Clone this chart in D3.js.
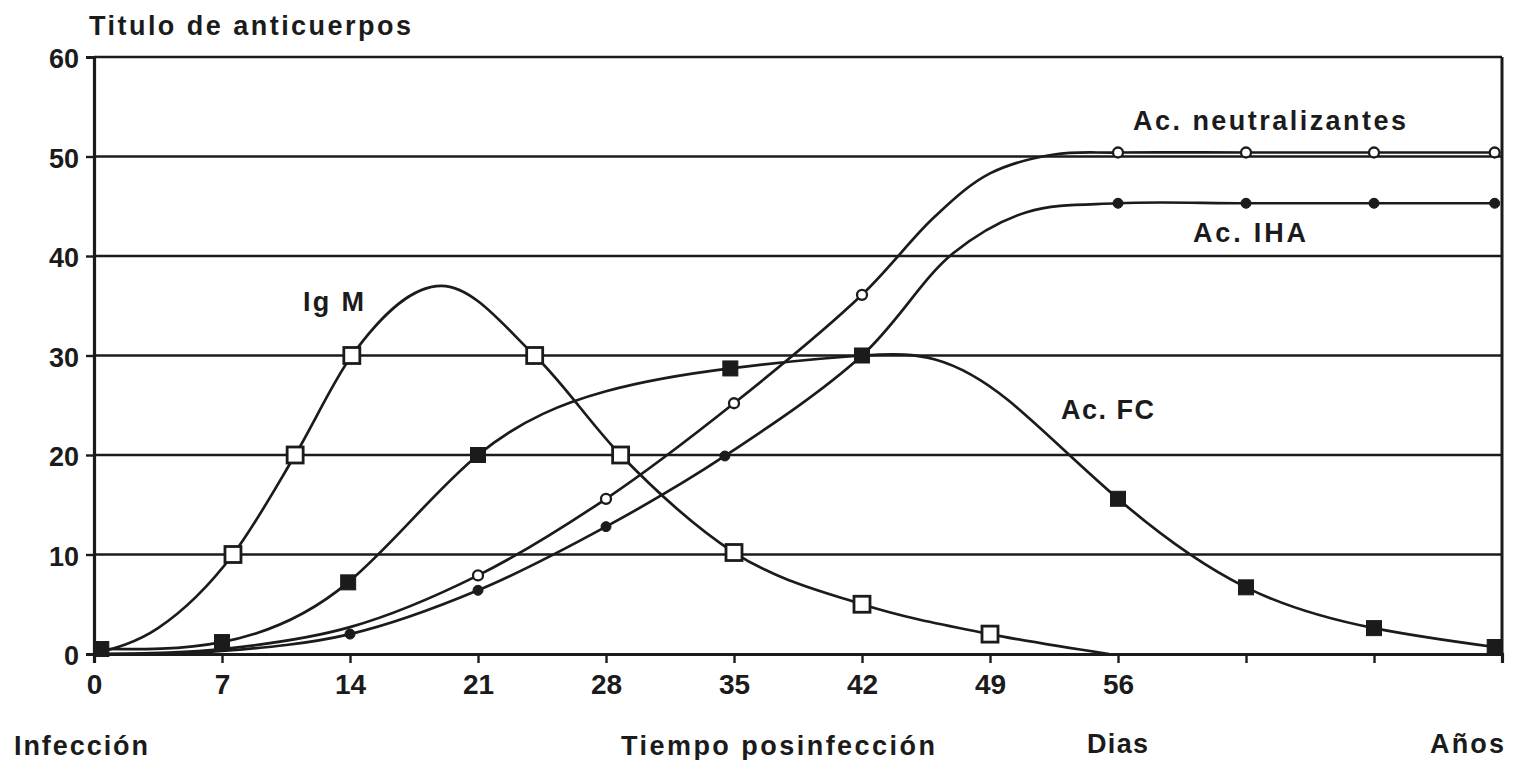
<!DOCTYPE html>
<html lang="es">
<head>
<meta charset="utf-8">
<title>Título de anticuerpos</title>
<script src="https://cdn.jsdelivr.net/npm/d3@7"></script>
<style>
  html, body { margin: 0; padding: 0; background: #ffffff; }
  svg { display: block; }
  text { font-family: "Liberation Sans", Arial, Helvetica, sans-serif; font-weight: bold; fill: #1b1b1b; }
</style>
</head>
<body>
<svg id="chart" width="1517" height="760"></svg>
<script>
// Axis ticks
const yTicks = [0, 10, 20, 30, 40, 50, 60];
const xTickDays = [0, 7, 14, 21, 28, 35, 42, 49, 56, 63, 70];
const xTickLabels = ["0", "7", "14", "21", "28", "35", "42", "49", "56", "", ""];

// Ig M (open squares); mark = 1 where a symbol is drawn
const igmDay   = [0, 3.5, 7.6, 11, 14.1, 19, 24.1, 28.8, 35, 42, 49, 55.5];
const igmTiter = [0, 2.6, 10, 20, 30, 37, 30, 20, 10.2, 5, 2, 0];
const igmMark  = [0, 0, 1, 1, 1, 0, 1, 1, 1, 1, 1, 0];

// Ac. FC (filled squares)
const fcDay   = [0.4, 7, 13.9, 21, 28, 34.8, 42, 46, 50, 56, 63, 70, 76.6];
const fcTiter = [0.5, 1.2, 7.2, 20, 26.4, 28.7, 30, 29.6, 25.5, 15.6, 6.7, 2.6, 0.7];
const fcMark  = [1, 1, 1, 1, 0, 1, 1, 0, 0, 1, 1, 1, 1];

// Ac. neutralizantes (open circles)
const neuDay   = [0, 7, 14, 21, 28, 35, 42, 46, 49, 52.5, 56, 63, 70, 76.6];
const neuTiter = [0, 0.5, 2.7, 7.9, 15.6, 25.2, 36.1, 44, 48.3, 50.2, 50.4, 50.4, 50.4, 50.4];
const neuMark  = [0, 0, 0, 1, 1, 1, 1, 0, 0, 0, 1, 1, 1, 1];

// Ac. IHA (filled circles)
const ihaDay   = [0, 7, 14, 21, 28, 34.5, 42, 47, 51, 56, 63, 70, 76.6];
const ihaTiter = [0, 0.3, 2.0, 6.4, 12.8, 19.9, 30, 40.3, 44.4, 45.3, 45.3, 45.3, 45.3];
const ihaMark  = [0, 0, 1, 1, 1, 1, 0, 0, 0, 1, 1, 1, 1];

const svg = d3.select("#chart");
const ink = "#1b1b1b";
const fontStack = "'Liberation Sans', Arial, sans-serif";

const x = d3.scaleLinear().domain([0, 77]).range([94, 1502]);
const y = d3.scaleLinear().domain([0, 60]).range([654, 57]);

// Horizontal rules at every ten units (the 60 rule closes the frame)
svg.append("g").selectAll("line").data(yTicks.filter(v => v > 0)).join("line")
  .attr("x1", x(0)).attr("x2", x(77))
  .attr("y1", d => y(d)).attr("y2", d => y(d))
  .attr("stroke", ink).attr("stroke-width", 2.5);

// Right border
svg.append("line")
  .attr("x1", x(77)).attr("x2", x(77)).attr("y1", y(60)).attr("y2", y(0))
  .attr("stroke", ink).attr("stroke-width", 3);

// Y axis
const yAxis = d3.axisLeft(y).tickValues(yTicks).tickSize(8).tickPadding(7).tickFormat(d3.format("d"));
const gy = svg.append("g").attr("transform", `translate(${x(0)},0)`).call(yAxis);
gy.select(".domain").attr("stroke", ink).attr("stroke-width", 3.2);
gy.selectAll(".tick line").attr("stroke", ink).attr("stroke-width", 2.4);
gy.selectAll(".tick text")
  .attr("font-size", 27).attr("dy", "0.4em")
  .style("font-family", fontStack).style("font-weight", "bold").attr("fill", ink);

// X axis
const xAxis = d3.axisBottom(x).tickValues(xTickDays).tickSize(9).tickPadding(11)
  .tickFormat((d, i) => xTickLabels[i]);
const gx = svg.append("g").attr("transform", `translate(0,${y(0)})`).call(xAxis);
gx.select(".domain").attr("stroke", ink).attr("stroke-width", 3.2);
gx.selectAll(".tick line").attr("stroke", ink).attr("stroke-width", 2.4);
gx.selectAll(".tick text")
  .attr("font-size", 28)
  .style("font-family", fontStack).style("font-weight", "bold").attr("fill", ink);

// Curves
const series = [
  { day: igmDay, titer: igmTiter, mark: igmMark, shape: "square", filled: false, curve: d3.curveMonotoneX },
  { day: fcDay,  titer: fcTiter,  mark: fcMark,  shape: "square", filled: true,  curve: d3.curveNatural },
  { day: neuDay, titer: neuTiter, mark: neuMark, shape: "circle", filled: false, curve: d3.curveCatmullRom.alpha(0.5) },
  { day: ihaDay, titer: ihaTiter, mark: ihaMark, shape: "circle", filled: true,  curve: d3.curveCatmullRom.alpha(0.5) }
];

series.forEach(s => {
  s.points = s.day.map((d, i) => ({ day: d, titer: s.titer[i], mark: s.mark[i] }));
  const line = d3.line()
    .x(d => x(d.day)).y(d => y(d.titer))
    .curve(s.curve);
  svg.append("path")
    .datum(s.points)
    .attr("d", line)
    .attr("fill", "none")
    .attr("stroke", ink)
    .attr("stroke-width", 2.7)
    .attr("stroke-linejoin", "round");
});

series.forEach(s => {
  const pts = s.points.filter(p => p.mark);
  const g = svg.append("g");
  if (s.shape === "square") {
    const size = s.filled ? 15 : 16;
    g.selectAll("rect").data(pts).join("rect")
      .attr("x", d => x(d.day) - size / 2)
      .attr("y", d => y(d.titer) - size / 2)
      .attr("width", size).attr("height", size)
      .attr("fill", s.filled ? ink : "#ffffff")
      .attr("stroke", ink).attr("stroke-width", s.filled ? 1 : 2.8);
  } else {
    g.selectAll("circle").data(pts).join("circle")
      .attr("cx", d => x(d.day)).attr("cy", d => y(d.titer))
      .attr("r", 5)
      .attr("fill", s.filled ? ink : "#ffffff")
      .attr("stroke", ink).attr("stroke-width", s.filled ? 1 : 2.3);
  }
});

// Text labels
function label(txt, x0, base, width, size) {
  svg.append("text")
    .attr("x", x0).attr("y", base)
    .attr("font-size", size)
    .attr("textLength", width)
    .attr("lengthAdjust", "spacing")
    .text(txt);
}

label("Titulo de anticuerpos", 89, 35, 322, 27);
label("Ig M", 303, 311, 61, 27);
label("Ac. neutralizantes", 1133, 130, 273, 27);
label("Ac. IHA", 1193, 242, 113, 27);
label("Ac. FC", 1061, 419, 93, 27);
label("Infección", 14, 755, 134, 27);
label("Tiempo posinfección", 621, 755, 314, 27);
label("Dias", 1087, 753, 61, 27);
label("Años", 1430, 753, 74, 27);
</script>
</body>
</html>
